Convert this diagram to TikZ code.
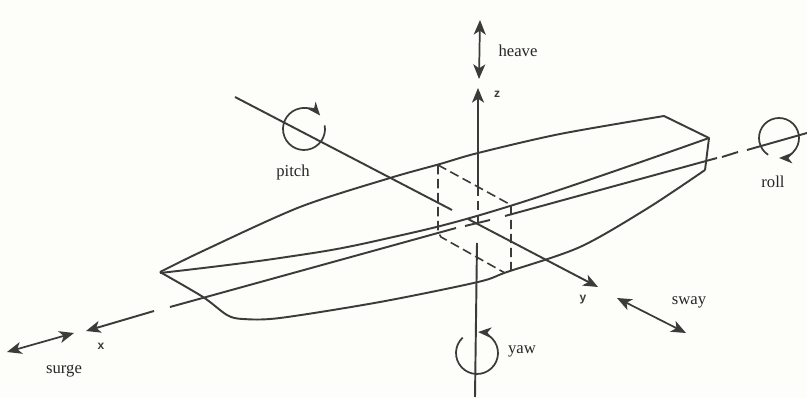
\documentclass[tikz,border=0pt]{standalone}
\usepackage{fontspec}
\setmainfont{Liberation Serif}
\newfontfamily\axisfont{Liberation Sans}
\usetikzlibrary{arrows.meta}
\definecolor{paper}{HTML}{FDFDFA}
\definecolor{ink}{HTML}{3C3B39}
\tikzset{
    line/.style={draw=ink, line width=1.45pt, line join=round},
    hidden/.style={line, line width=1.2pt, dash pattern=on 7pt off 3.5pt},
    motion/.style={line, line width=1.3pt, {Stealth[length=11pt,width=9pt,inset=3pt]}-{Stealth[length=11pt,width=9pt,inset=3pt]}},
    turn/.style={line, line width=1.3pt, -{Stealth[length=10pt,width=8pt,inset=3pt]}},
    axis/.style={line, -{Stealth[length=11pt,width=9pt,inset=3pt]}},
    word/.style={text=black!85, font=\fontsize{12.5}{14}\selectfont, inner sep=0pt},
    letter/.style={text=ink, font=\axisfont\bfseries\fontsize{9}{10}\selectfont, inner sep=0pt}
}
\begin{document}
\begin{tikzpicture}[x=0.75pt,y=-0.75pt]
    \fill[paper] (0,0) rectangle (807,398);
    \useasboundingbox (0,0) rectangle (807,398);

    % Hull
    \draw[line] plot[smooth,tension=0.5] coordinates {(160,272) (205,250) (300,207) (390,178) (440,164) (478,153) (560,134) (664,116)} -- (709,138) -- (705,170);
    \draw[line] plot[smooth,tension=0.5] coordinates {(705,170) (648,208) (580,247) (507,272) (478,282) (380,302) (280,318) (243,319) (227,315) (203,297) (160,272)};
    \draw[line] plot[smooth,tension=0.7] coordinates {(160,273) (280,258) (380,240) (510,206) (709,138)};

    % Hidden box
    \draw[hidden] (438,165) -- (438,232) -- (441,237) -- (505,273);
    \draw[hidden] (438,165) -- (511,205) -- (511,270);

    % Axis x
    \draw[line] (170,307) -- (456,228);
    \draw[line] (465,226) -- (490,220);
    \draw[line] (505,216) -- (717,158);
    \draw[line] (722,157) -- (738,152);
    \draw[line] (747,150) -- (807,133);
    \draw[axis] (154,311) -- (86,331);
    \node[letter] (xlabel) at (101,346) {x};

    % Axis y
    \draw[line] (235,97) -- (452,210);
    \draw[axis] (468,219) -- (598,287);
    \node[letter] (ylabel) at (583,300) {y};

    % Axis z
    \draw[axis] (478,187) -- (478,88);
    \draw[hidden] (478,187) -- (478,227);
    \draw[line] (477,243) -- (475,397);
    \node[letter] (zlabel) at (497,94) {z};

    % Translations
    \draw[motion] (480,20) -- (479,79);
    \node[word] (heave) at (518,51) {heave};
    \draw[motion] (7,352) -- (74,333);
    \node[word] (surge) at (64,371) {surge};
    \draw[motion] (617,298) -- (686,333);
    \node[word] (sway) at (689,302) {sway};

    % Rotations
    \draw[turn] (304,129) ++(-10:21) arc (-10:320:21);
    \node[word] (pitch) at (293,172) {pitch};
    \draw[turn] (779,138) ++(-237:20) arc (-237:90:20);
    \node[word] (roll) at (773,182) {roll};
    \draw[turn] (477,353) ++(-133:21) arc (-133:-447:21);
    \node[word] (yaw) at (522,351) {yaw};
\end{tikzpicture}
\end{document}
